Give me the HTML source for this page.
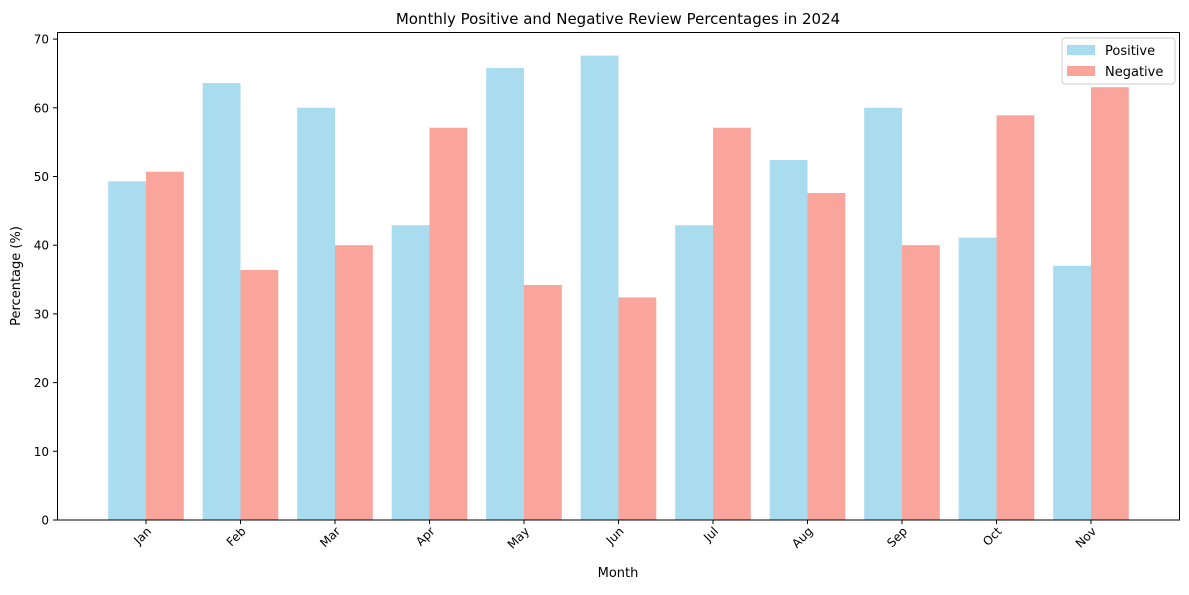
<!DOCTYPE html>
<html><head><meta charset="utf-8"><style>
body{margin:0;background:#fff;font-family:"Liberation Sans","DejaVu Sans",sans-serif}
</style></head><body>
<svg id="chart" width="1189" height="590" xmlns="http://www.w3.org/2000/svg" font-family="'DejaVu Sans','Liberation Sans',sans-serif">
<text x="618" y="24" text-anchor="middle" font-size="15">Monthly Positive and Negative Review Percentages in 2024</text>
<g id="bars"></g>
<g id="axes"></g>
<rect x="57.5" y="32.5" width="1122" height="487.5" fill="none" stroke="#000" stroke-width="1"/>
<text x="618" y="577" text-anchor="middle" font-size="13">Month</text>
<text transform="translate(20,276) rotate(-90)" text-anchor="middle" font-size="13">Percentage (%)</text>
<g>
<rect x="1062" y="38" width="113" height="46" fill="#fff" stroke="#ccc" rx="3"/>
<g><rect x="1067" y="45" width="28" height="10" fill="#a8dcee"/><text x="1105" y="55" font-size="13">Positive</text></g>
<g><rect x="1067" y="66" width="28" height="10" fill="#f9a59c"/><text x="1105" y="76" font-size="13">Negative</text></g>
</g>
</svg>
<script>
const months=["Jan","Feb","Mar","Apr","May","Jun","Jul","Aug","Sep","Oct","Nov"];
const positive=[49.3,63.6,60,42.9,65.8,67.6,42.9,52.4,60,41.1,37];
const negative=[50.7,36.4,40,57.1,34.2,32.4,57.1,47.6,40,58.9,63];
const yTicks=[0,10,20,30,40,50,60,70];
const NS="http://www.w3.org/2000/svg";
const xS=i=>146+i*94.5;
const yS=v=>520-v*6.87;
const bars=document.getElementById('bars'),axes=document.getElementById('axes');
function mk(t,a,p){const e=document.createElementNS(NS,t);for(const k in a)e.setAttribute(k,a[k]);p.appendChild(e);return e;}
months.forEach((m,i)=>{
 const w=0.4*94.5;
 const p=mk('rect',{x:xS(i)-w,y:yS(positive[i]),width:w,height:yS(0)-yS(positive[i]),fill:'#a8dcee'},bars);
 
 
 const n=mk('rect',{x:xS(i),y:yS(negative[i]),width:w,height:yS(0)-yS(negative[i]),fill:'#f9a59c'},bars);
 
 
 mk('line',{x1:xS(i),x2:xS(i),y1:520,y2:524,stroke:'#000'},axes);
 const t=mk('text',{x:0,y:0,'font-size':12,'text-anchor':'end',transform:`translate(${xS(i)+6},${532}) rotate(-45)`},axes);
 t.textContent=m;
 
 
});
yTicks.forEach(v=>{
 mk('line',{x1:53,x2:57,y1:yS(v),y2:yS(v),stroke:'#000'},axes);
 const t=mk('text',{x:49,y:yS(v)+4.5,'font-size':12,'text-anchor':'end'},axes);
 t.textContent=v;
 
 
});
</script>
</body></html>
